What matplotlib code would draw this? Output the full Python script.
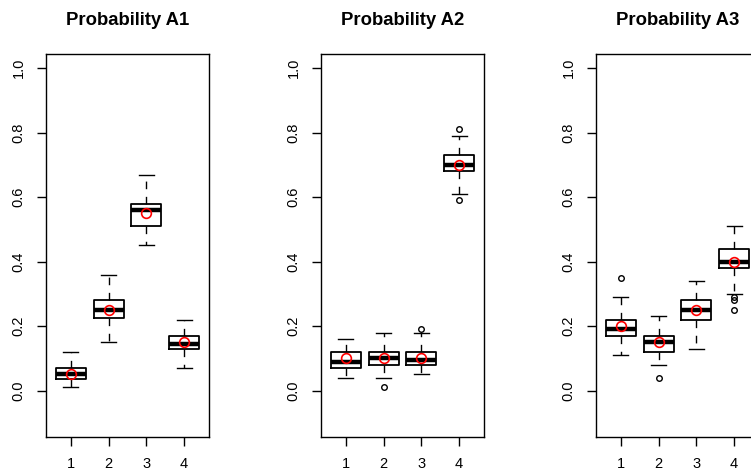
import matplotlib
matplotlib.use('Agg')
import matplotlib.pyplot as plt

plt.rcParams['font.family'] = ['Liberation Sans', 'DejaVu Sans']

# Data: per panel, per group (1-4)
titles = ['Probability A1', 'Probability A2', 'Probability A3']
groups = [1, 2, 3, 4]

whislo = [[0.01, 0.15, 0.45, 0.07],
          [0.04, 0.04, 0.05, 0.61],
          [0.11, 0.08, 0.13, 0.30]]
q1 = [[0.035, 0.225, 0.51, 0.13],
      [0.07, 0.08, 0.08, 0.68],
      [0.17, 0.12, 0.22, 0.38]]
med = [[0.05, 0.25, 0.56, 0.145],
       [0.09, 0.10, 0.095, 0.70],
       [0.19, 0.15, 0.25, 0.40]]
q3 = [[0.07, 0.28, 0.58, 0.17],
      [0.12, 0.12, 0.12, 0.73],
      [0.22, 0.17, 0.28, 0.44]]
whishi = [[0.12, 0.36, 0.67, 0.22],
          [0.16, 0.18, 0.18, 0.79],
          [0.29, 0.23, 0.34, 0.51]]
means = [[0.05, 0.25, 0.55, 0.15],
         [0.10, 0.10, 0.10, 0.70],
         [0.20, 0.15, 0.25, 0.40]]
fliers = [[[], [], [], []],
          [[], [0.01], [0.19], [0.81, 0.59]],
          [[0.35], [0.04], [], [0.29, 0.28, 0.25]]]

yticks = [0.0, 0.2, 0.4, 0.6, 0.8, 1.0]

fig = plt.figure(figsize=(7.51, 4.72), dpi=100)
lefts = [46 / 751, 321 / 751, 596 / 751]

for p in range(3):
    ax = fig.add_axes([lefts[p], 35 / 472, 163 / 751, 383 / 472])
    stats = []
    for g in range(4):
        stats.append(dict(med=med[p][g], q1=q1[p][g], q3=q3[p][g],
                          whislo=whislo[p][g], whishi=whishi[p][g],
                          mean=means[p][g], fliers=fliers[p][g]))
    ax.bxp(stats, positions=groups, widths=0.8, capwidths=0.4,
           showmeans=True, patch_artist=False,
           boxprops=dict(color='black', linewidth=1.3),
           medianprops=dict(color='black', linewidth=3.2, solid_capstyle='butt'),
           whiskerprops=dict(color='black', linewidth=1.0, linestyle=(0, (5.5, 5.5))),
           capprops=dict(color='black', linewidth=1.0),
           flierprops=dict(marker='o', markersize=4, markerfacecolor='none',
                           markeredgecolor='black', markeredgewidth=1.0),
           meanprops=dict(marker='o', markersize=7, markerfacecolor='none',
                          markeredgecolor='red', markeredgewidth=1.2))
    ax.set_xlim(0.34, 4.66)
    ax.set_ylim(-0.144, 1.044)
    ax.set_xticks(groups)
    ax.set_xticklabels([str(g) for g in groups])
    ax.set_yticks(yticks)
    ax.set_yticklabels(['%.1f' % v for v in yticks], rotation=90, va='center')
    ax.tick_params(length=6.5, width=1.0, labelsize=10.5, pad=8)
    for s in ax.spines.values():
        s.set_linewidth(1.0)
    ax.set_title(titles[p], fontsize=13.3, fontweight='bold', pad=21)

fig.savefig('out.png', dpi=100)
